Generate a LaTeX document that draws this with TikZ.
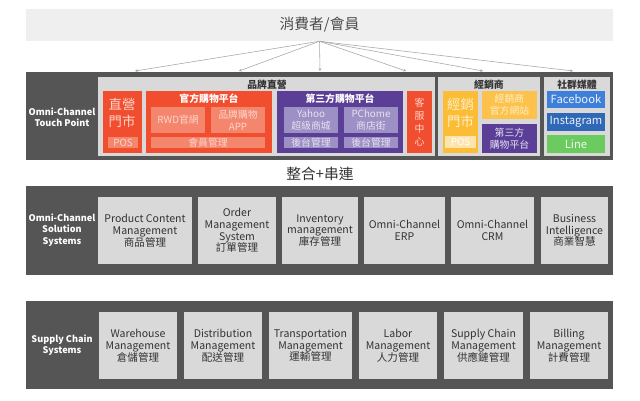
\documentclass[tikz,border=0pt]{standalone}
\usepackage{fontspec}
\setmainfont{Noto Sans CJK TC}
\usepackage{tikz}
\usetikzlibrary{arrows.meta}

\definecolor{bandgray}{HTML}{555555}
\definecolor{panelgray}{HTML}{D9D9D9}
\definecolor{topgray}{HTML}{EFEFEF}
\definecolor{txtgray}{HTML}{333333}
\definecolor{brandred}{HTML}{F14E2F}
\definecolor{redlight}{HTML}{F5866E}
\definecolor{redtext}{HTML}{FCD5CB}
\definecolor{brandpurple}{HTML}{5B3F97}
\definecolor{purplelight}{HTML}{9C90C4}
\definecolor{purpletext}{HTML}{E6E1F1}
\definecolor{dealeryellow}{HTML}{FBBD36}
\definecolor{yellowsite}{HTML}{FCC24C}
\definecolor{yellowlight}{HTML}{FDE4AC}
\definecolor{yellowtext}{HTML}{FEEFCB}
\definecolor{fbblue}{HTML}{3E7FDA}
\definecolor{igblue}{HTML}{2F68B6}
\definecolor{linegreen}{HTML}{6BCB5E}

\begin{document}
\begin{tikzpicture}[x=0.25mm, y=-0.25mm,
    every node/.style={inner sep=0pt, align=center},
    span/.style n args={4}{minimum width={(#3-#1)*0.25mm},
        minimum height={(#4-#2)*0.25mm}, at={({(#1+#3)/2},{(#2+#4)/2})}},
    band/.style={fill=bandgray},
    panel/.style={fill=panelgray},
    bandlabel/.style={text=white, font=\fontsize{6.5}{8}\selectfont\bfseries},
    paneltitle/.style={text=txtgray, font=\fontsize{7}{8}\selectfont\bfseries},
    whitetitle/.style={text=white, font=\fontsize{7}{8}\selectfont\bfseries},
    subtxt/.style={font=\fontsize{7}{8.5}\selectfont},
    bigtxt/.style={font=\fontsize{9.5}{12.5}\selectfont},
    socialtxt/.style={font=\fontsize{8}{9}\selectfont},
    redsub/.style={fill=redlight, text=redtext, subtxt},
    purplesub/.style={fill=purplelight, text=purpletext, subtxt},
    sysbox/.style={fill=panelgray, text=txtgray, font=\fontsize{7.5}{8.4}\selectfont},
    link/.style={draw=gray!70, line width=0.4pt, -{Stealth[length=2pt, width=2pt]}}]

    % sfondo
    \useasboundingbox[fill=white] (0,0) rectangle (640,400);

    % consumatori
    \node[fill=topgray, span={26}{9}{613}{41}, text=black!70,
        font=\fontsize{10.5}{12}\selectfont] (consumer) {消費者/會員};
    \foreach \x/\n in {135/a, 239/b, 320/c, 406/d, 483/e, 573/f}
        \coordinate (tip\n) at (\x,71);
    \foreach \n in {a,b,c,d,e,f}
        \draw[link] (consumer.south) -- (tip\n);

    % touch point
    \node[band, span={26}{72}{613}{160}] (touch) {};
    \node[bandlabel] (touchlbl) at (62,117) {Omni-Channel\\Touch Point};

    \node[panel, span={98}{77}{435}{156}] (brand) {};
    \node[paneltitle] (brandttl) at (267,85) {品牌直營};

    \node[fill=brandred, span={103}{91}{142}{153}] (store) {};
    \node[bigtxt, text=redtext] (storetxt) at (122,113) {直營\\門市};
    \node[redsub, span={108}{137}{138}{148}] (storepos) {POS};

    \node[fill=brandred, span={146}{91}{272}{153}] (official) {};
    \node[whitetitle] (officialttl) at (209,99) {官方購物平台};
    \node[redsub, span={151}{107}{205}{133}] (rwd) {RWD官網};
    \node[redsub, span={211}{107}{265}{133}] (app) {品牌購物\\APP};
    \node[redsub, span={151}{137}{265}{148}] (member) {會員管理};

    \node[fill=brandpurple, span={277}{91}{403}{153}] (third) {};
    \node[whitetitle] (thirdttl) at (340,99) {第三方購物平台};
    \node[purplesub, span={284}{107}{338}{133}] (yahoo) {Yahoo\\超級商城};
    \node[purplesub, span={344}{107}{398}{133}] (pchome) {PChome\\商店街};
    \node[purplesub, span={284}{137}{338}{148}] (yahooadm) {後台管理};
    \node[purplesub, span={344}{137}{398}{148}] (pchomeadm) {後台管理};

    \node[fill=brandred, span={407}{91}{432}{153}, text=redtext,
        font=\fontsize{7}{9.3}\selectfont] (service) {客\\服\\中\\心};

    \node[panel, span={438}{77}{540}{156}] (dealer) {};
    \node[paneltitle] (dealerttl) at (489,85) {經銷商};
    \node[fill=dealeryellow, span={443}{91}{478}{153}] (dstore) {};
    \node[bigtxt, text=yellowtext] (dstoretxt) at (460.5,113) {經銷\\門市};
    \node[fill=yellowlight, text=white, subtxt, span={445}{136}{476}{148}] (dpos) {POS};
    \node[fill=yellowsite, text=yellowtext, subtxt, span={482}{91}{537}{119}] (dsite) {經銷商\\官方網站};
    \node[fill=brandpurple, text=purpletext, subtxt, span={482}{124}{537}{153}] (dthird) {第三方\\購物平台};

    \node[panel, span={544}{77}{610}{156}] (social) {};
    \node[paneltitle] (socialttl) at (577,85) {社群媒體};
    \node[fill=fbblue, text=white!90!fbblue, socialtxt, span={547}{91}{605}{108}] (fb) {Facebook};
    \node[fill=igblue, text=white!90!igblue, socialtxt, span={547}{113}{605}{131}] (ig) {Instagram};
    \node[fill=linegreen, text=white!90!linegreen, socialtxt, span={547}{135}{605}{153}] (line) {Line};

    \node[text=txtgray, font=\fontsize{10.5}{12}\selectfont] (merge) at (320,174) {整合+串連};

    % solution systems
    \node[band, span={26}{186}{613}{275}] (solution) {};
    \node[bandlabel] (solutionlbl) at (62,230) {Omni-Channel\\Solution\\Systems};
    \node[sysbox, span={98}{197}{192}{264}] (pcm) {Product Content\\Management\\商品管理};
    \node[sysbox, span={198}{197}{276}{264}] (oms) {Order\\Management\\System\\訂單管理};
    \node[sysbox, span={282}{197}{358}{264}] (inv) {Inventory\\management\\庫存管理};
    \node[sysbox, span={364}{197}{445}{264}] (erp) {Omni-Channel\\ERP};
    \node[sysbox, span={451}{197}{534}{264}] (crm) {Omni-Channel\\CRM};
    \node[sysbox, span={541}{197}{608}{264}] (bi) {Business\\Intelligence\\商業智慧};

    % supply chain
    \node[band, span={26}{301}{613}{389}] (supply) {};
    \node[bandlabel] (supplylbl) at (62,345) {Supply Chain\\Systems};
    \node[sysbox, span={99}{312}{177}{379}] (wms) {Warehouse\\Management\\倉儲管理};
    \node[sysbox, span={184}{312}{262}{379}] (dms) {Distribution\\Management\\配送管理};
    \node[sysbox, span={269}{312}{352}{379}] (tms) {Transportation\\Management\\運輸管理};
    \node[sysbox, span={359}{312}{437}{379}] (lms) {Labor\\Management\\人力管理};
    \node[sysbox, span={444}{312}{523}{379}] (scm) {Supply Chain\\Management\\供應鏈管理};
    \node[sysbox, span={530}{312}{608}{379}] (bms) {Billing\\Management\\計費管理};
\end{tikzpicture}
\end{document}
